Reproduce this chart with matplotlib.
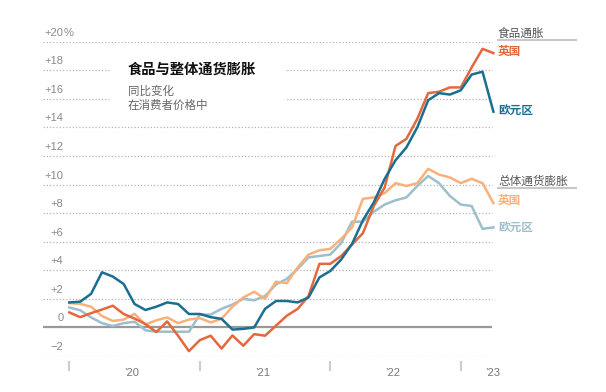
import matplotlib
matplotlib.use("Agg")
import matplotlib.pyplot as plt
from matplotlib.patches import Rectangle

plt.rcParams['font.family'] = ['Noto Sans CJK SC', 'DejaVu Sans']

# Monthly data, Jan 2020 .. Apr 2023 (40 months)
months = list(range(40))
uk_food = [1.05, 0.72, 1.0, 1.25, 1.52, 0.94, 0.62, 0.24, -0.32, 0.42,
           -0.58, -1.66, -0.89, -0.58, -1.48, -0.56, -1.28, -0.47, -0.58, 0.12,
           0.82, 1.3, 2.2, 4.45, 4.45, 5.0, 5.8, 6.6, 8.5, 9.8,
           12.7, 13.2, 14.6, 16.4, 16.5, 16.8, 16.8, 18.2, 19.5, 19.2]
euro_food = [1.75, 1.8, 2.35, 3.86, 3.56, 3.04, 1.64, 1.22, 1.45, 1.75,
             1.64, 0.94, 0.94, 0.72, 0.6, -0.15, -0.1, 0.0, 1.3, 1.85,
             1.85, 1.75, 2.1, 3.5, 3.95, 4.75, 5.85, 7.5, 8.75, 10.4,
             11.7, 12.6, 14.0, 15.9, 16.4, 16.3, 16.6, 17.7, 17.9, 15.1]
uk_cpi = [1.7, 1.65, 1.45, 0.8, 0.45, 0.55, 0.95, 0.2, 0.5, 0.7,
          0.3, 0.55, 0.65, 0.35, 0.6, 1.45, 2.1, 2.5, 2.0, 3.2,
          3.1, 4.2, 5.1, 5.4, 5.5, 6.2, 7.0, 9.0, 9.1, 9.4,
          10.1, 9.9, 10.1, 11.1, 10.7, 10.5, 10.1, 10.4, 10.1, 8.7]
euro_cpi = [1.4, 1.2, 0.7, 0.3, 0.1, 0.3, 0.4, -0.2, -0.3, -0.3,
            -0.3, -0.3, 0.9, 0.9, 1.3, 1.6, 2.0, 1.9, 2.2, 3.0,
            3.4, 4.1, 4.9, 5.0, 5.1, 5.9, 7.4, 7.4, 8.1, 8.6,
            8.9, 9.1, 9.9, 10.6, 10.1, 9.2, 8.6, 8.5, 6.9, 7.0]

y_ticks = [-2, 0, 2, 4, 6, 8, 10, 12, 14, 16, 18, 20]
y_labels = ["\u22122", "0", "+2", "+4", "+6", "+8", "+10", "+12", "+14", "+16", "+18", "+20"]
year_ticks = [0, 12, 24, 36]
year_label_pos = [5.75, 17.75, 29.75, 38.9]
year_labels = ["\u201920", "\u201921", "\u201922", "\u201923"]

C_RED = "#e4683c"
C_BLUE = "#1a6e8f"
C_LORANGE = "#fbb07c"
C_LBLUE = "#9cbfcb"

LATIN = ['Liberation Sans', 'DejaVu Sans']

W, H = 606, 392
fig = plt.figure(figsize=(W / 100, H / 100), dpi=100)
ax_l, ax_r, ax_t, ax_b = 43, 493.4, 41.7, 356
ax = fig.add_axes([ax_l / W, 1 - ax_b / H, (ax_r - ax_l) / W, (ax_b - ax_t) / H])
ax.set_xlim(-2.42, 39)
ax.set_ylim(-2, 20)
ax.axis('off')


def data_to_fig(x, y):
    dx, dy = ax.transData.transform((x, y))
    return dx / W, dy / H


# gridlines
for v in y_ticks:
    if v == 0:
        ax.plot([-2.42, 38.9], [0, 0], color="#999999", lw=1.6, zorder=2, solid_capstyle='butt')
    else:
        ax.plot([-2.42, 38.9], [v, v], color="#b5b5b5", lw=0.9, ls=(0, (1, 1.6)), zorder=1)

# white box behind title
bx0, by0 = 110 / W, 1 - 114 / H
bx1, by1 = 285 / W, 1 - 52 / H
ax.add_patch(Rectangle((bx0, by0), bx1 - bx0, by1 - by0, transform=fig.transFigure,
                       facecolor="white", edgecolor="none", zorder=1.5))

# lines
ax.plot(months, euro_cpi, color=C_LBLUE, lw=1.8, zorder=3, clip_on=False)
ax.plot(months, uk_cpi, color=C_LORANGE, lw=1.8, zorder=3, clip_on=False)
ax.plot(months, uk_food, color=C_RED, lw=1.8, zorder=4, clip_on=False)
ax.plot(months, euro_food, color=C_BLUE, lw=1.8, zorder=5, clip_on=False)

# y tick labels
for v, lab in zip(y_ticks, y_labels):
    _, fy = data_to_fig(0, v)
    fig.text(63.3 / W, fy + 9 / H, lab, ha='right', va='center',
             fontsize=8, color="#888888", family=LATIN)
_, fy20 = data_to_fig(0, 20)
fig.text(63.6 / W, fy20 + 9 / H, "%", ha='left', va='center',
         fontsize=8, color="#888888", family=LATIN)

# year ticks
for t in year_ticks:
    fx, _ = data_to_fig(t, 0)
    fig.add_artist(plt.Line2D([fx, fx], [1 - 362 / H, 1 - 370 / H], transform=fig.transFigure,
                              color="#cccccc", lw=1.5))
for t, lab in zip(year_label_pos, year_labels):
    fx, _ = data_to_fig(t, 0)
    fig.text(fx, 1 - 373 / H, lab, ha='center', va='center', fontsize=8, color="#777777",
             family=LATIN)

# title
fig.text(128 / W, 1 - 70 / H, "食品与整体通货膨胀", fontsize=10.3, fontweight='bold',
         color="#111111", ha='left', va='center', zorder=6)
fig.text(128 / W, 1 - 91 / H, "同比变化", fontsize=8.3, color="#666666", ha='left', va='center', zorder=6)
fig.text(128 / W, 1 - 105 / H, "在消费者价格中", fontsize=8.3, color="#666666", ha='left', va='center', zorder=6)

# right side labels
lx = 498 / W
fig.text(lx, 1 - 33 / H, "食品通胀", fontsize=8.4, color="#555555", ha='left', va='center')
fig.add_artist(plt.Line2D([498 / W, 576 / W], [1 - 39.7 / H] * 2, transform=fig.transFigure,
                          color="#c8c8c8", lw=1.5))
fig.text(lx, 1 - 51 / H, "英国", fontsize=8.4, fontweight='bold', color=C_RED, ha='left', va='center')
fig.text(lx, 1 - 111 / H, "欧元区", fontsize=8.4, fontweight='bold', color=C_BLUE, ha='left', va='center')
fig.text(lx, 1 - 181.7 / H, "总体通货膨胀", fontsize=8.4, color="#555555", ha='left', va='center')
fig.add_artist(plt.Line2D([498 / W, 576 / W], [1 - 187.7 / H] * 2, transform=fig.transFigure,
                          color="#c8c8c8", lw=1.5))
fig.text(lx, 1 - 200 / H, "英国", fontsize=8.4, fontweight='bold', color=C_LORANGE, ha='left', va='center')
fig.text(lx, 1 - 228.3 / H, "欧元区", fontsize=8.4, fontweight='bold', color=C_LBLUE, ha='left', va='center')

fig.savefig("out.png", dpi=100, facecolor="white")
